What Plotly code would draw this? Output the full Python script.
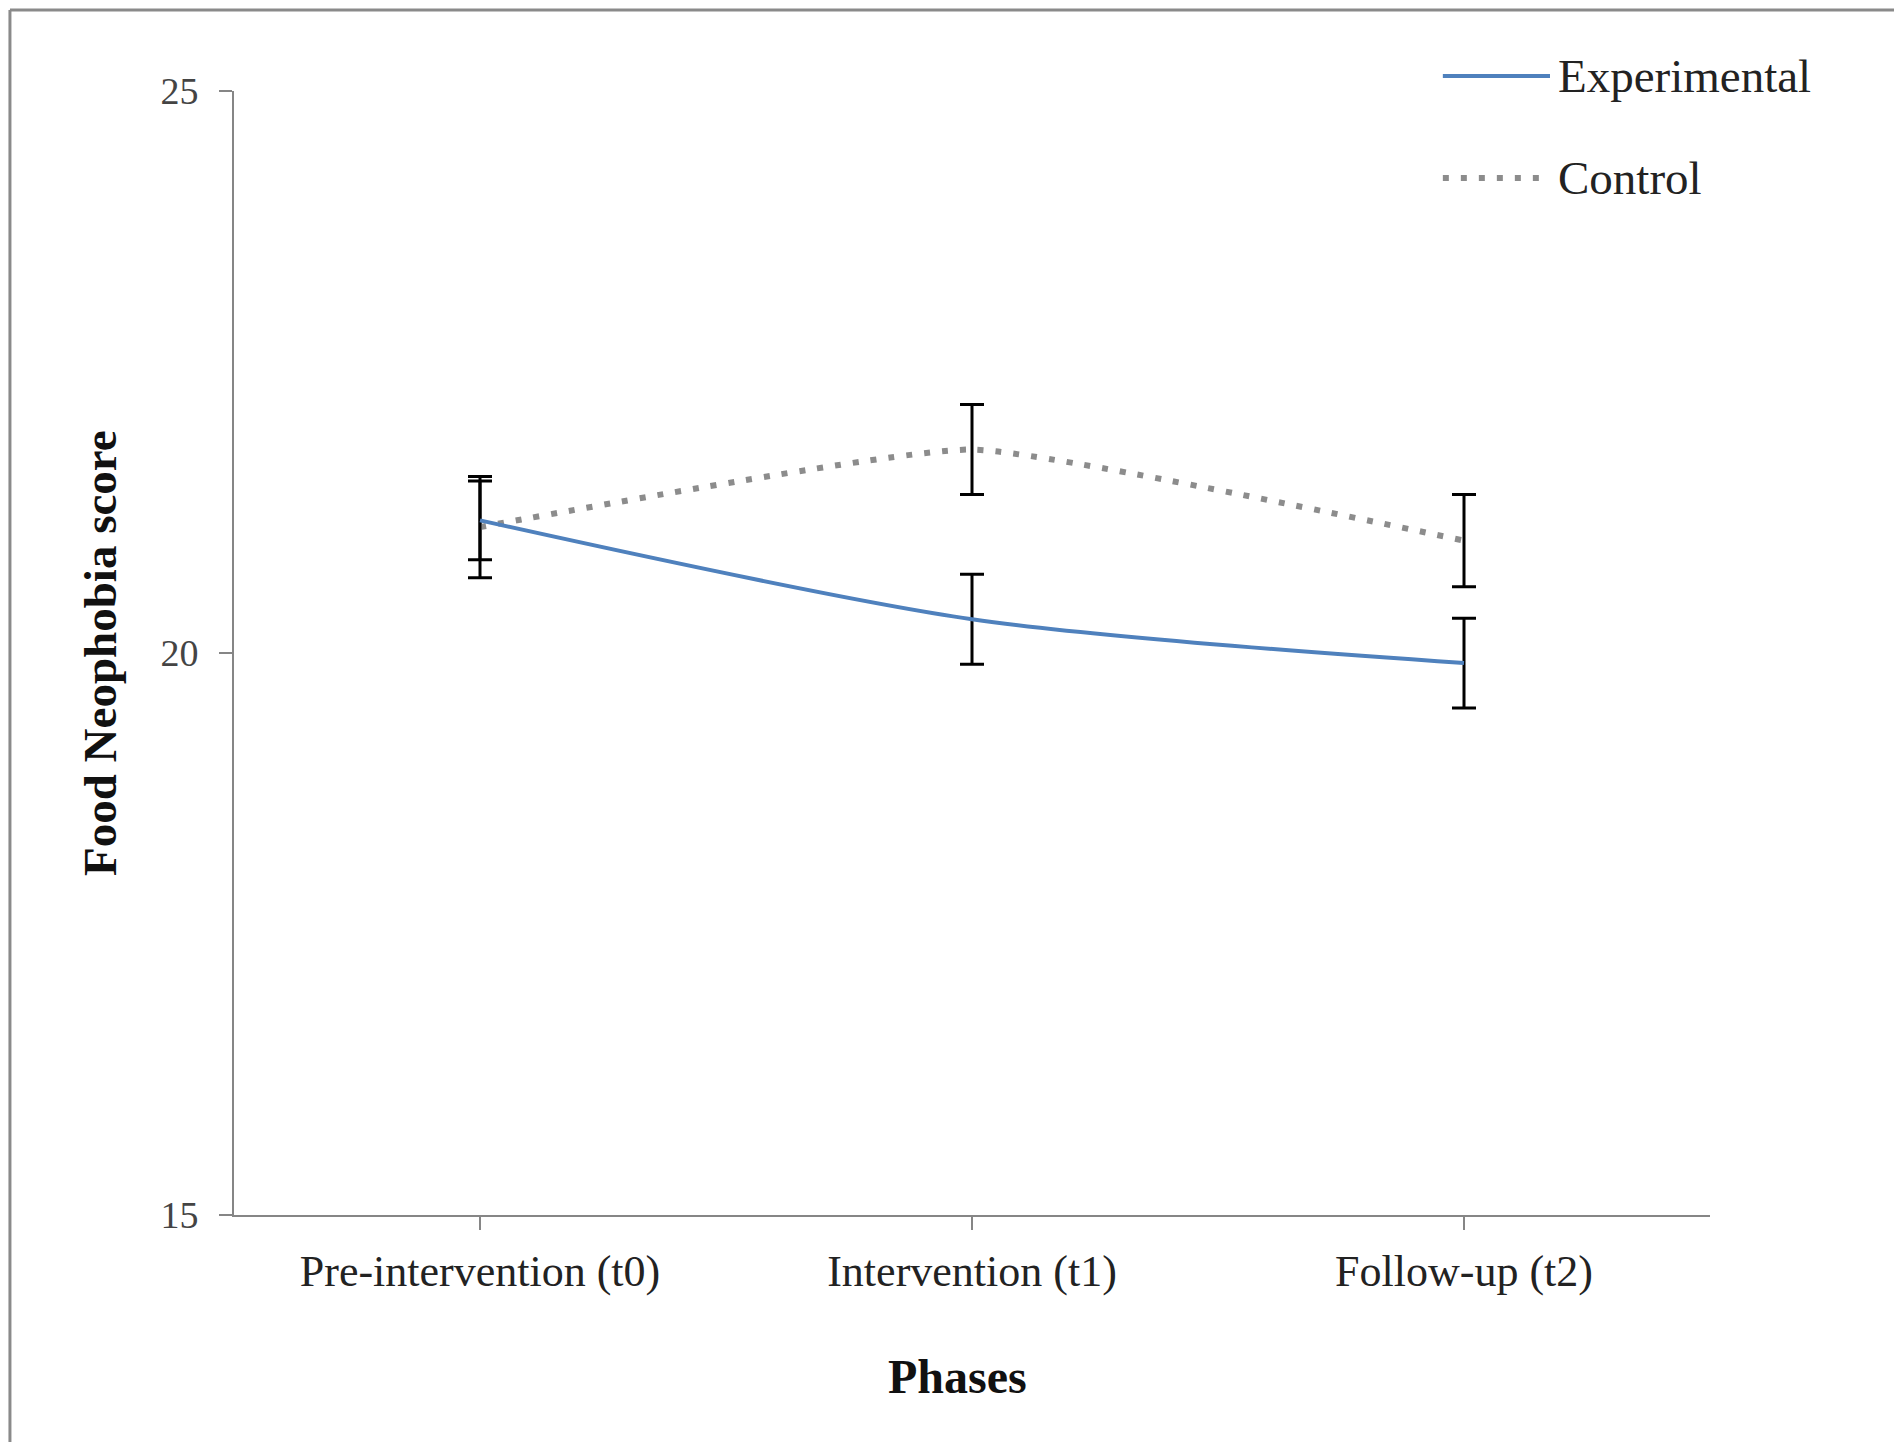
import plotly.graph_objects as go

phases = ["Pre-intervention (t0)", "Intervention (t1)", "Follow-up (t2)"]
experimental = [21.18, 20.30, 19.91]
experimental_err = [0.35, 0.40, 0.40]
control = [21.12, 21.81, 21.00]
control_err = [0.45, 0.40, 0.41]
series_names = ["Experimental", "Control"]
y_ticks = [15, 20, 25]

FONT = "Liberation Serif, Times New Roman, serif"
BLUE = "#4F81BD"
GRAY = "#8C8C8C"

fig = go.Figure()
fig.add_trace(go.Scatter(
    x=phases, y=control, name=series_names[1], mode="lines",
    line=dict(color=GRAY, width=6, dash="6px,12px", shape="spline", smoothing=0.4),
    error_y=dict(type="data", array=control_err, color="black", thickness=3, width=12),
    showlegend=False))
fig.add_trace(go.Scatter(
    x=phases, y=experimental, name=series_names[0], mode="lines",
    line=dict(color=BLUE, width=4, shape="spline", smoothing=0.8),
    error_y=dict(type="data", array=experimental_err, color="black", thickness=3, width=12),
    showlegend=False))

fig.update_layout(
    width=1902, height=1442,
    margin=dict(l=226, r=200, t=83, b=235, pad=0),
    paper_bgcolor="white", plot_bgcolor="white",
    font=dict(family=FONT, color="#222222"),
    xaxis=dict(
        type="category", range=[-0.5, 2.5], showgrid=False, zeroline=False,
        showline=True, linecolor="#868686", linewidth=2,
        ticks="outside", ticklen=13, tickwidth=2, tickcolor="#868686",
        tickfont=dict(family=FONT, size=44, color="#222222"),
        ticklabelstandoff=3,
    ),
    yaxis=dict(
        range=[15, 25], tickvals=y_ticks, showgrid=False, zeroline=False,
        showline=True, linecolor="#868686", linewidth=2,
        ticks="outside", ticklen=13, tickwidth=2, tickcolor="#868686",
        tickfont=dict(family=FONT, size=38, color="#444444"),
        ticklabelstandoff=13,
    ),
)

# right-end tick of the category axis
fig.add_shape(type="line", xref="paper", x0=1, x1=1, yref="y", ysizemode="pixel",
              yanchor=15, y0=0, y1=-13, line=dict(color="#868686", width=2))

# outer frame (left and top edges)
fig.add_shape(type="line", xref="paper", yref="paper", x0=-0.1518, x1=1.2, y0=1.072, y1=1.072,
              line=dict(color="#8A8A8A", width=3))
fig.add_shape(type="line", xref="paper", yref="paper", x0=-0.1518, x1=-0.1518, y0=-0.25, y1=1.072,
              line=dict(color="#8A8A8A", width=3))

# axis titles
fig.add_annotation(text="<b>Phases</b>", xref="paper", yref="paper", x=0.4905, y=-0.144,
                   showarrow=False, xanchor="center", yanchor="middle",
                   font=dict(family=FONT, size=48, color="#111111"))
fig.add_annotation(text="<b>Food Neophobia score</b>", xref="paper", yref="paper", x=-0.0908, y=0.5,
                   showarrow=False, xanchor="center", yanchor="middle", textangle=-90,
                   font=dict(family=FONT, size=47, color="#111111"))

# legend (drawn manually to match sample length)
leg_y = [1.0133, 0.9226]
fig.add_shape(type="line", xref="paper", yref="paper", x0=0.819, x1=0.8916, y0=leg_y[0], y1=leg_y[0],
              line=dict(color=BLUE, width=4))
fig.add_shape(type="line", xref="paper", yref="paper", x0=0.819, x1=0.8916, y0=leg_y[1], y1=leg_y[1],
              line=dict(color=GRAY, width=6, dash="6px,12px"))
for name, yy in zip(series_names, leg_y):
    fig.add_annotation(text=name, xref="paper", yref="paper", x=0.8957, y=yy,
                       showarrow=False, xanchor="left", yanchor="middle",
                       font=dict(family=FONT, size=47, color="#222222"))

fig.write_html("out.html")
